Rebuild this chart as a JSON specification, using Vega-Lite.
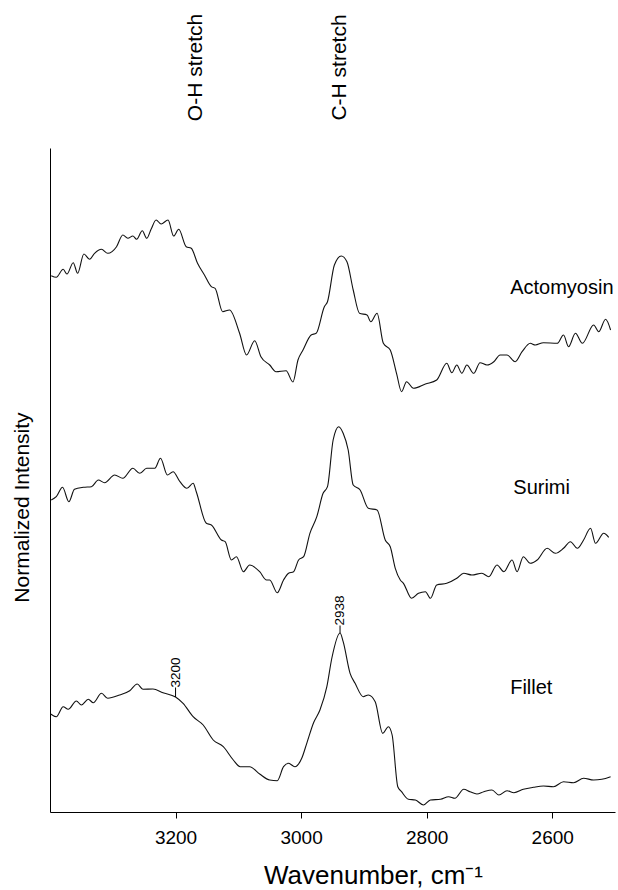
{
  "$schema": "https://vega.github.io/schema/vega-lite/v6.json",
  "width": 565,
  "height": 664,
  "autosize": {"type": "none"},
  "padding": {"left": 50, "top": 148, "right": 3, "bottom": 78},
  "background": "white",
  "config": {
    "view": {"stroke": null},
    "font": "Liberation Sans",
    "axis": {"domainColor": "black", "tickColor": "black", "labelColor": "black", "titleColor": "black", "labelFont": "Liberation Sans", "titleFont": "Liberation Sans", "titleFontWeight": "normal", "grid": false}
  },
  "datasets": {
    "spectra": [
      {"sample":"Actomyosin","wn":3398,"I":536.3},{"sample":"Actomyosin","wn":3390,"I":534.7},{"sample":"Actomyosin","wn":3379,"I":542.7},{"sample":"Actomyosin","wn":3373,"I":538},{"sample":"Actomyosin","wn":3363,"I":549.3},{"sample":"Actomyosin","wn":3356,"I":538.7},{"sample":"Actomyosin","wn":3346,"I":558},{"sample":"Actomyosin","wn":3337,"I":552.7},{"sample":"Actomyosin","wn":3329,"I":558.7},{"sample":"Actomyosin","wn":3318,"I":562.7},{"sample":"Actomyosin","wn":3308,"I":558.7},{"sample":"Actomyosin","wn":3294,"I":565.3},{"sample":"Actomyosin","wn":3284,"I":577},{"sample":"Actomyosin","wn":3276,"I":573.7},{"sample":"Actomyosin","wn":3268,"I":576},{"sample":"Actomyosin","wn":3262,"I":572.7},{"sample":"Actomyosin","wn":3253,"I":581.3},{"sample":"Actomyosin","wn":3246,"I":573.7},{"sample":"Actomyosin","wn":3239,"I":582.7},{"sample":"Actomyosin","wn":3231,"I":592},{"sample":"Actomyosin","wn":3223,"I":588},{"sample":"Actomyosin","wn":3212,"I":592},{"sample":"Actomyosin","wn":3203,"I":576},{"sample":"Actomyosin","wn":3195,"I":582.7},{"sample":"Actomyosin","wn":3183,"I":565.3},{"sample":"Actomyosin","wn":3175,"I":563.7},{"sample":"Actomyosin","wn":3165,"I":548.7},{"sample":"Actomyosin","wn":3154,"I":537},{"sample":"Actomyosin","wn":3143,"I":525.3},{"sample":"Actomyosin","wn":3137,"I":523.7},{"sample":"Actomyosin","wn":3125,"I":500.3},{"sample":"Actomyosin","wn":3114,"I":502},{"sample":"Actomyosin","wn":3098,"I":478.7},{"sample":"Actomyosin","wn":3087,"I":457},{"sample":"Actomyosin","wn":3074,"I":471.3},{"sample":"Actomyosin","wn":3064,"I":455.3},{"sample":"Actomyosin","wn":3050,"I":447},{"sample":"Actomyosin","wn":3040,"I":440.3},{"sample":"Actomyosin","wn":3024,"I":441.3},{"sample":"Actomyosin","wn":3013,"I":430},{"sample":"Actomyosin","wn":3005,"I":452},{"sample":"Actomyosin","wn":2997,"I":462},{"sample":"Actomyosin","wn":2984,"I":477},{"sample":"Actomyosin","wn":2976,"I":478.7},{"sample":"Actomyosin","wn":2963,"I":505.3},{"sample":"Actomyosin","wn":2958,"I":510.3},{"sample":"Actomyosin","wn":2947,"I":547},{"sample":"Actomyosin","wn":2936,"I":556},{"sample":"Actomyosin","wn":2927,"I":550.3},{"sample":"Actomyosin","wn":2917,"I":522},{"sample":"Actomyosin","wn":2907,"I":498.7},{"sample":"Actomyosin","wn":2895,"I":497},{"sample":"Actomyosin","wn":2889,"I":490.3},{"sample":"Actomyosin","wn":2879,"I":498.7},{"sample":"Actomyosin","wn":2869,"I":468.7},{"sample":"Actomyosin","wn":2858,"I":462},{"sample":"Actomyosin","wn":2848,"I":438.7},{"sample":"Actomyosin","wn":2840,"I":420.3},{"sample":"Actomyosin","wn":2832,"I":430.3},{"sample":"Actomyosin","wn":2821,"I":423.7},{"sample":"Actomyosin","wn":2802,"I":428},{"sample":"Actomyosin","wn":2784,"I":432},{"sample":"Actomyosin","wn":2768,"I":448.7},{"sample":"Actomyosin","wn":2760,"I":439.3},{"sample":"Actomyosin","wn":2752,"I":447},{"sample":"Actomyosin","wn":2744,"I":438.7},{"sample":"Actomyosin","wn":2736,"I":447},{"sample":"Actomyosin","wn":2725,"I":438.7},{"sample":"Actomyosin","wn":2715,"I":449.3},{"sample":"Actomyosin","wn":2704,"I":447},{"sample":"Actomyosin","wn":2693,"I":450.3},{"sample":"Actomyosin","wn":2683,"I":457},{"sample":"Actomyosin","wn":2672,"I":457},{"sample":"Actomyosin","wn":2659,"I":450.3},{"sample":"Actomyosin","wn":2648,"I":460.3},{"sample":"Actomyosin","wn":2635,"I":468.7},{"sample":"Actomyosin","wn":2627,"I":467},{"sample":"Actomyosin","wn":2614,"I":469.3},{"sample":"Actomyosin","wn":2592,"I":468.7},{"sample":"Actomyosin","wn":2582,"I":477},{"sample":"Actomyosin","wn":2574,"I":465.3},{"sample":"Actomyosin","wn":2563,"I":478.7},{"sample":"Actomyosin","wn":2552,"I":468.7},{"sample":"Actomyosin","wn":2534,"I":487},{"sample":"Actomyosin","wn":2526,"I":480.3},{"sample":"Actomyosin","wn":2515,"I":492.7},{"sample":"Actomyosin","wn":2507,"I":482},
      {"sample":"Surimi","wn":3398,"I":312},{"sample":"Surimi","wn":3390,"I":315.3},{"sample":"Surimi","wn":3380,"I":324.7},{"sample":"Surimi","wn":3370,"I":310.3},{"sample":"Surimi","wn":3361,"I":322.7},{"sample":"Surimi","wn":3347,"I":324.7},{"sample":"Surimi","wn":3334,"I":325.3},{"sample":"Surimi","wn":3323,"I":332},{"sample":"Surimi","wn":3313,"I":329.3},{"sample":"Surimi","wn":3297,"I":337},{"sample":"Surimi","wn":3284,"I":333.7},{"sample":"Surimi","wn":3268,"I":343.7},{"sample":"Surimi","wn":3257,"I":338.7},{"sample":"Surimi","wn":3246,"I":343.7},{"sample":"Surimi","wn":3233,"I":343.7},{"sample":"Surimi","wn":3224,"I":353.7},{"sample":"Surimi","wn":3213,"I":337},{"sample":"Surimi","wn":3204,"I":340.3},{"sample":"Surimi","wn":3193,"I":330.3},{"sample":"Surimi","wn":3182,"I":323.7},{"sample":"Surimi","wn":3172,"I":328.7},{"sample":"Surimi","wn":3167,"I":320.3},{"sample":"Surimi","wn":3151,"I":288.7},{"sample":"Surimi","wn":3143,"I":287},{"sample":"Surimi","wn":3127,"I":272},{"sample":"Surimi","wn":3121,"I":270.3},{"sample":"Surimi","wn":3111,"I":252},{"sample":"Surimi","wn":3103,"I":255.3},{"sample":"Surimi","wn":3092,"I":240.3},{"sample":"Surimi","wn":3082,"I":247},{"sample":"Surimi","wn":3066,"I":240.3},{"sample":"Surimi","wn":3055,"I":232},{"sample":"Surimi","wn":3050,"I":232},{"sample":"Surimi","wn":3038,"I":219.3},{"sample":"Surimi","wn":3028,"I":232},{"sample":"Surimi","wn":3020,"I":238.7},{"sample":"Surimi","wn":3012,"I":240.3},{"sample":"Surimi","wn":3004,"I":252},{"sample":"Surimi","wn":2996,"I":255.3},{"sample":"Surimi","wn":2986,"I":278.7},{"sample":"Surimi","wn":2975,"I":295.3},{"sample":"Surimi","wn":2965,"I":318.7},{"sample":"Surimi","wn":2958,"I":325.3},{"sample":"Surimi","wn":2949,"I":372},{"sample":"Surimi","wn":2940,"I":385.3},{"sample":"Surimi","wn":2933,"I":378.7},{"sample":"Surimi","wn":2925,"I":362},{"sample":"Surimi","wn":2917,"I":327},{"sample":"Surimi","wn":2906,"I":322},{"sample":"Surimi","wn":2893,"I":303.7},{"sample":"Surimi","wn":2879,"I":302},{"sample":"Surimi","wn":2866,"I":272},{"sample":"Surimi","wn":2858,"I":265.3},{"sample":"Surimi","wn":2850,"I":243.7},{"sample":"Surimi","wn":2842,"I":232},{"sample":"Surimi","wn":2837,"I":228.7},{"sample":"Surimi","wn":2824,"I":213.7},{"sample":"Surimi","wn":2813,"I":218.7},{"sample":"Surimi","wn":2802,"I":220.3},{"sample":"Surimi","wn":2794,"I":213.7},{"sample":"Surimi","wn":2784,"I":227},{"sample":"Surimi","wn":2768,"I":228.7},{"sample":"Surimi","wn":2752,"I":233.7},{"sample":"Surimi","wn":2741,"I":238.7},{"sample":"Surimi","wn":2728,"I":237},{"sample":"Surimi","wn":2712,"I":238.7},{"sample":"Surimi","wn":2701,"I":235.3},{"sample":"Surimi","wn":2688,"I":247},{"sample":"Surimi","wn":2677,"I":240.3},{"sample":"Surimi","wn":2664,"I":252},{"sample":"Surimi","wn":2656,"I":240.3},{"sample":"Surimi","wn":2646,"I":255.3},{"sample":"Surimi","wn":2635,"I":248.7},{"sample":"Surimi","wn":2624,"I":252},{"sample":"Surimi","wn":2608,"I":263.7},{"sample":"Surimi","wn":2595,"I":258.7},{"sample":"Surimi","wn":2582,"I":263.7},{"sample":"Surimi","wn":2571,"I":270.3},{"sample":"Surimi","wn":2560,"I":263.7},{"sample":"Surimi","wn":2550,"I":272},{"sample":"Surimi","wn":2539,"I":283.7},{"sample":"Surimi","wn":2531,"I":268.7},{"sample":"Surimi","wn":2518,"I":278.7},{"sample":"Surimi","wn":2510,"I":274.7},
      {"sample":"Fillet","wn":3399,"I":98},{"sample":"Fillet","wn":3390,"I":95.3},{"sample":"Fillet","wn":3379,"I":105.3},{"sample":"Fillet","wn":3371,"I":102.7},{"sample":"Fillet","wn":3358,"I":111},{"sample":"Fillet","wn":3350,"I":107},{"sample":"Fillet","wn":3339,"I":112.7},{"sample":"Fillet","wn":3331,"I":109.3},{"sample":"Fillet","wn":3318,"I":118.7},{"sample":"Fillet","wn":3308,"I":113.7},{"sample":"Fillet","wn":3289,"I":117},{"sample":"Fillet","wn":3273,"I":121.3},{"sample":"Fillet","wn":3261,"I":128},{"sample":"Fillet","wn":3252,"I":122.7},{"sample":"Fillet","wn":3236,"I":123},{"sample":"Fillet","wn":3220,"I":119.3},{"sample":"Fillet","wn":3200,"I":115},{"sample":"Fillet","wn":3188,"I":108.7},{"sample":"Fillet","wn":3172,"I":95.3},{"sample":"Fillet","wn":3156,"I":87},{"sample":"Fillet","wn":3140,"I":72},{"sample":"Fillet","wn":3124,"I":65.3},{"sample":"Fillet","wn":3108,"I":52},{"sample":"Fillet","wn":3097,"I":45.3},{"sample":"Fillet","wn":3082,"I":45.3},{"sample":"Fillet","wn":3066,"I":38},{"sample":"Fillet","wn":3050,"I":32},{"sample":"Fillet","wn":3038,"I":31.3},{"sample":"Fillet","wn":3028,"I":45.3},{"sample":"Fillet","wn":3020,"I":48.7},{"sample":"Fillet","wn":3010,"I":45.3},{"sample":"Fillet","wn":2999,"I":53.7},{"sample":"Fillet","wn":2991,"I":68.7},{"sample":"Fillet","wn":2980,"I":89.5},{"sample":"Fillet","wn":2970,"I":102},{"sample":"Fillet","wn":2959,"I":125.3},{"sample":"Fillet","wn":2951,"I":154},{"sample":"Fillet","wn":2938,"I":179},{"sample":"Fillet","wn":2933,"I":170.3},{"sample":"Fillet","wn":2922,"I":138.7},{"sample":"Fillet","wn":2914,"I":128.7},{"sample":"Fillet","wn":2901,"I":115.3},{"sample":"Fillet","wn":2893,"I":117},{"sample":"Fillet","wn":2882,"I":110.3},{"sample":"Fillet","wn":2870,"I":78.7},{"sample":"Fillet","wn":2861,"I":85.3},{"sample":"Fillet","wn":2855,"I":77},{"sample":"Fillet","wn":2846,"I":25.3},{"sample":"Fillet","wn":2840,"I":20.3},{"sample":"Fillet","wn":2829,"I":12.7},{"sample":"Fillet","wn":2818,"I":12},{"sample":"Fillet","wn":2805,"I":7},{"sample":"Fillet","wn":2794,"I":12},{"sample":"Fillet","wn":2778,"I":12.7},{"sample":"Fillet","wn":2765,"I":15.3},{"sample":"Fillet","wn":2755,"I":13.7},{"sample":"Fillet","wn":2741,"I":22.7},{"sample":"Fillet","wn":2731,"I":20.3},{"sample":"Fillet","wn":2720,"I":18},{"sample":"Fillet","wn":2709,"I":20.3},{"sample":"Fillet","wn":2696,"I":22},{"sample":"Fillet","wn":2685,"I":17},{"sample":"Fillet","wn":2672,"I":21.3},{"sample":"Fillet","wn":2661,"I":19.3},{"sample":"Fillet","wn":2646,"I":22.7},{"sample":"Fillet","wn":2630,"I":24.7},{"sample":"Fillet","wn":2614,"I":26},{"sample":"Fillet","wn":2598,"I":25.3},{"sample":"Fillet","wn":2582,"I":30.3},{"sample":"Fillet","wn":2566,"I":29.3},{"sample":"Fillet","wn":2550,"I":33.7},{"sample":"Fillet","wn":2534,"I":32},{"sample":"Fillet","wn":2521,"I":32.7},{"sample":"Fillet","wn":2507,"I":35.3}
    ],
    "names": [
      {"name":"Actomyosin","wn":2667,"I":524},
      {"name":"Surimi","wn":2662,"I":324.5},
      {"name":"Fillet","wn":2667,"I":124.5}
    ],
    "bands": [
      {"label":"O-H stretch","wn":3168,"I":744.5},
      {"label":"C-H stretch","wn":2938,"I":744.5}
    ],
    "peaks": [
      {"label":"3200","wn":3200,"I":115,"Itext":124.5},
      {"label":"2938","wn":2938,"I":179,"Itext":186.5}
    ]
  },
  "layer": [
    {
      "mark": {"type": "rule", "strokeDash": [2, 2], "strokeWidth": 1, "color": "black"},
      "encoding": {
        "x": {"datum": 2938, "type": "quantitative", "scale": {"domain": [2500, 3400], "reverse": true, "nice": false, "zero": false}},
        "y": {"datum": 610, "type": "quantitative", "scale": {"domain": [0, 664], "nice": false, "zero": false}},
        "y2": {"datum": 0}
      }
    },
    {
      "data": {"name": "spectra"},
      "mark": {"type": "line", "interpolate": "monotone", "strokeWidth": 1.1, "color": "#111111"},
      "encoding": {
        "x": {"field": "wn", "type": "quantitative", "scale": {"domain": [2500, 3400], "reverse": true, "nice": false, "zero": false},
              "axis": {"values": [3200, 3000, 2800, 2600], "format": "d", "tickSize": 6, "labelFontSize": 19, "labelPadding": 10, "labelFlush": false,
                       "title": "Wavenumber, cm⁻¹", "titleFontSize": 26, "titleX": 323, "titleY": 71, "titleAlign": "center", "titleBaseline": "alphabetic", "titleAnchor": "middle"}},
        "y": {"field": "I", "type": "quantitative", "scale": {"domain": [0, 664], "nice": false, "zero": false},
              "axis": {"ticks": false, "labels": false, "title": "Normalized Intensity", "titleFontSize": 21, "titleAngle": -90, "titleX": -21.5, "titleY": 359, "titleAlign": "center", "titleBaseline": "alphabetic"}},
        "detail": {"field": "sample", "type": "nominal"}
      }
    },
    {
      "data": {"name": "names"},
      "mark": {"type": "text", "align": "left", "baseline": "middle", "fontSize": 20, "font": "Liberation Sans", "color": "black"},
      "encoding": {
        "x": {"field": "wn", "type": "quantitative", "scale": {"domain": [2500, 3400], "reverse": true, "nice": false, "zero": false}},
        "y": {"field": "I", "type": "quantitative", "scale": {"domain": [0, 664], "nice": false, "zero": false}},
        "text": {"field": "name"}
      }
    },
    {
      "data": {"name": "bands"},
      "mark": {"type": "text", "align": "center", "baseline": "middle", "angle": 270, "fontSize": 21, "font": "Liberation Sans", "color": "black"},
      "encoding": {
        "x": {"field": "wn", "type": "quantitative", "scale": {"domain": [2500, 3400], "reverse": true, "nice": false, "zero": false}},
        "y": {"field": "I", "type": "quantitative", "scale": {"domain": [0, 664], "nice": false, "zero": false}},
        "text": {"field": "label"}
      }
    },
    {
      "data": {"name": "peaks"},
      "mark": {"type": "rule", "strokeWidth": 1, "color": "black"},
      "encoding": {
        "x": {"field": "wn", "type": "quantitative", "scale": {"domain": [2500, 3400], "reverse": true, "nice": false, "zero": false}},
        "y": {"field": "I", "type": "quantitative", "scale": {"domain": [0, 664], "nice": false, "zero": false}},
        "y2": {"field": "Itext"}
      }
    },
    {
      "data": {"name": "peaks"},
      "mark": {"type": "text", "align": "left", "baseline": "middle", "angle": 270, "fontSize": 13.5, "font": "Liberation Sans", "color": "black"},
      "encoding": {
        "x": {"field": "wn", "type": "quantitative", "scale": {"domain": [2500, 3400], "reverse": true, "nice": false, "zero": false}},
        "y": {"field": "Itext", "type": "quantitative", "scale": {"domain": [0, 664], "nice": false, "zero": false}},
        "text": {"field": "label"}
      }
    }
  ]
}
